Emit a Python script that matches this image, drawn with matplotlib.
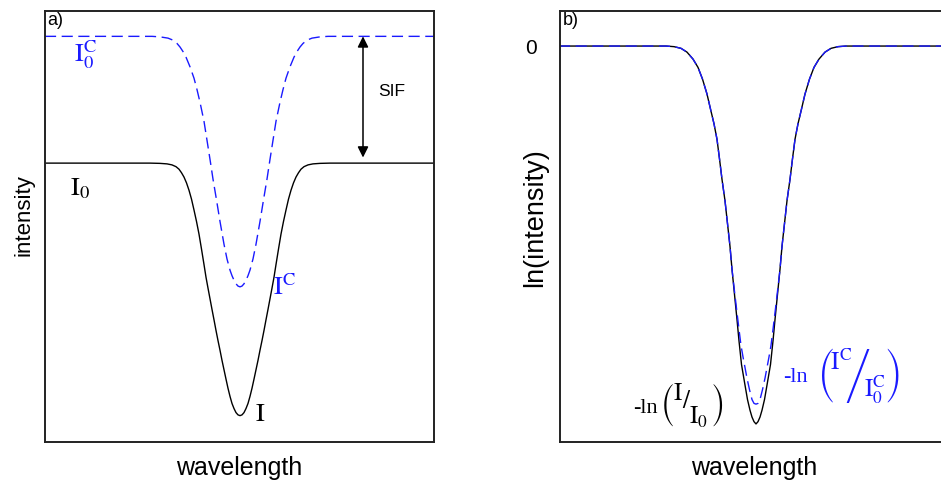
import numpy as np
import matplotlib
matplotlib.use('Agg')
import matplotlib.pyplot as plt

# panel a) intensity (wavelength in arbitrary units, line centre at 0)
wl_a = [-1.95, -0.90, -0.80, -0.73, -0.68, -0.64, -0.61, -0.585, -0.56, -0.535, -0.51,
        -0.485, -0.46, -0.435, -0.41, -0.385, -0.36, -0.34, -0.32, -0.30, -0.28, -0.26,
        -0.24, -0.22, -0.20, -0.18, -0.16, -0.14, -0.12, -0.10, -0.08, -0.06, -0.04, -0.02,
        0.0, 0.02, 0.04, 0.06, 0.08, 0.10, 0.12, 0.14, 0.16, 0.18, 0.20, 0.22, 0.24, 0.26,
        0.28, 0.30, 0.32, 0.34, 0.36, 0.385, 0.41, 0.435, 0.46, 0.485, 0.51, 0.535, 0.56,
        0.585, 0.61, 0.64, 0.68, 0.73, 0.80, 0.90, 1.95]
I_obs = [1.0, 1.0, 0.999, 0.997, 0.993, 0.986, 0.976, 0.962, 0.945, 0.922, 0.893,
         0.858, 0.815, 0.77, 0.72, 0.661, 0.60, 0.55, 0.507, 0.465, 0.423, 0.382,
         0.34, 0.30, 0.262, 0.222, 0.185, 0.148, 0.112, 0.080, 0.052, 0.032, 0.016, 0.007,
         0.004, 0.007, 0.016, 0.032, 0.052, 0.080, 0.112, 0.148, 0.185, 0.222, 0.262, 0.30, 0.34, 0.382,
         0.423, 0.465, 0.507, 0.55, 0.60, 0.661, 0.72, 0.77, 0.815, 0.858, 0.893, 0.922, 0.945,
         0.962, 0.976, 0.986, 0.993, 0.997, 0.999, 1.0, 1.0]

wl_c = [-1.95, -0.88, -0.80, -0.72, -0.67, -0.63, -0.60, -0.57, -0.54, -0.50, -0.46, -0.43,
        -0.40, -0.36, -0.33, -0.30, -0.27, -0.235, -0.20, -0.16, -0.13, -0.10, -0.08, -0.06,
        -0.04, -0.02, 0.0, 0.02, 0.04, 0.06, 0.08, 0.10, 0.13, 0.16, 0.20, 0.235, 0.27, 0.30,
        0.33, 0.36, 0.40, 0.43, 0.46, 0.50, 0.54, 0.57, 0.60, 0.63, 0.67, 0.72, 0.80, 0.88, 1.95]
I_corr = [1.5, 1.5, 1.498, 1.493, 1.485, 1.472, 1.458, 1.44, 1.418, 1.38, 1.335, 1.29,
          1.24, 1.165, 1.09, 1.015, 0.937, 0.855, 0.77, 0.68, 0.622, 0.578, 0.556, 0.538,
          0.524, 0.515, 0.512, 0.515, 0.524, 0.538, 0.556, 0.578, 0.622, 0.68, 0.77, 0.855, 0.937, 1.015,
          1.09, 1.165, 1.24, 1.29, 1.335, 1.38, 1.418, 1.44, 1.458, 1.472, 1.485, 1.493, 1.498, 1.5, 1.5]

# panel b) ln(intensity)
wl_b = [-1.97, -0.90, -0.82, -0.75, -0.69, -0.63, -0.58, -0.535, -0.49, -0.45, -0.42,
        -0.39, -0.365, -0.34, -0.31, -0.285, -0.26, -0.24, -0.215, -0.19, -0.17, -0.145,
        -0.11, -0.085, -0.06, -0.04, -0.02, 0.0, 0.02, 0.04, 0.06, 0.085, 0.11, 0.145, 0.17,
        0.19, 0.215, 0.24, 0.26, 0.285, 0.31, 0.34, 0.365, 0.39, 0.42, 0.45, 0.49, 0.535,
        0.58, 0.63, 0.69, 0.75, 0.82, 0.90, 1.92]
ln_obs = [0.0, 0.0, -0.008, -0.03, -0.08, -0.171, -0.28, -0.434, -0.63, -0.855, -1.02,
          -1.224, -1.48, -1.75, -2.03, -2.33, -2.63, -2.93, -3.26, -3.59, -3.87, -4.18,
          -4.45, -4.64, -4.78, -4.87, -4.93, -4.96, -4.93, -4.87, -4.78, -4.64, -4.45, -4.18, -3.87,
          -3.59, -3.26, -2.93, -2.63, -2.33, -2.03, -1.75, -1.48, -1.224, -1.02, -0.855, -0.63, -0.434,
          -0.28, -0.171, -0.08, -0.03, -0.008, 0.0, 0.0]

wl_bc = [-1.97, -0.90, -0.82, -0.75, -0.69, -0.63, -0.58, -0.535, -0.49, -0.45, -0.42,
         -0.39, -0.365, -0.34, -0.31, -0.285, -0.26, -0.24, -0.215, -0.19, -0.17, -0.15,
         -0.13, -0.11, -0.09, -0.065, -0.04, -0.02, 0.0, 0.02, 0.04, 0.065, 0.09, 0.11, 0.13,
         0.15, 0.17, 0.19, 0.215, 0.24, 0.26, 0.285, 0.31, 0.34, 0.365, 0.39, 0.42, 0.45,
         0.49, 0.535, 0.58, 0.63, 0.69, 0.75, 0.82, 0.90, 1.92]
ln_corr = [0.0, 0.0, -0.008, -0.03, -0.08, -0.171, -0.28, -0.434, -0.63, -0.855, -1.02,
           -1.224, -1.48, -1.75, -2.03, -2.33, -2.63, -2.93, -3.22, -3.50, -3.72, -3.93,
           -4.08, -4.22, -4.36, -4.51, -4.64, -4.69, -4.70, -4.69, -4.64, -4.51, -4.36, -4.22, -4.08,
           -3.93, -3.72, -3.50, -3.22, -2.93, -2.63, -2.33, -2.03, -1.75, -1.48, -1.224, -1.02, -0.855,
           -0.63, -0.434, -0.28, -0.171, -0.08, -0.03, -0.008, 0.0, 0.0]

sif_x = 1.23
sif_top = 1.5
sif_bottom = 1.022

plt.rcParams['font.family'] = ['Liberation Sans', 'DejaVu Sans']
plt.rcParams['mathtext.fontset'] = 'stix'

W, H = 941, 484
fig = plt.figure(figsize=(W / 100, H / 100), dpi=100)
ax1 = fig.add_axes([45 / W, 42 / H, 389 / W, 431 / H])
ax2 = fig.add_axes([560 / W, 42 / H, 389 / W, 431 / H])

blue = '#1a1aff'
dash = (8, 4)

ax1.plot(wl_a, I_obs, color='black', lw=1.0)
ax1.plot(wl_c, I_corr, color=blue, lw=1.0, ls='--', dashes=dash)
ax1.set_xlim(-1.95, 1.94)
ax1.set_ylim(-0.1, 1.6)
ax1.annotate('', xy=(sif_x, sif_bottom), xytext=(sif_x, sif_top),
             arrowprops=dict(arrowstyle='<|-|>', color='black', lw=1.1,
                             mutation_scale=16, shrinkA=0, shrinkB=0))
ax1.text(1.52, 1.283, 'SIF', fontsize=12.5, ha='center', va='center')
ax1.text(-1.55, 1.43, r'$\mathrm{I}_0^\mathrm{C}$', color=blue, fontsize=19, ha='center', va='center')
ax1.text(-1.6, 0.90, r'$\mathrm{I}_0$', color='black', fontsize=19, ha='center', va='center')
ax1.text(0.44, 0.51, r'$\mathrm{I}^\mathrm{C}$', color=blue, fontsize=19, ha='center', va='center')
ax1.text(0.20, 0.012, r'$\mathrm{I}$', color='black', fontsize=19, ha='center', va='center')
ax1.text(0.006, 0.997, 'a)', transform=ax1.transAxes, fontsize=13, ha='left', va='top')
ax1.set_xticks([])
ax1.set_yticks([])
ax1.set_xlabel('wavelength', fontsize=18)
ax1.xaxis.set_label_coords(0.5, -26 / 431)
ax1.xaxis.label.set_va('center')
ax1.set_ylabel('intensity', fontsize=16)
ax1.yaxis.set_label_coords(-21 / 389, 0.527)
ax1.yaxis.label.set_va('center')

ax2.plot(wl_b, ln_obs, color='black', lw=1.0)
ax2.plot(wl_bc, ln_corr, color=blue, lw=1.0, ls='--', dashes=dash)
ax2.set_xlim(-1.96, 1.93)
ax2.set_ylim(-5.197, 0.46)
ax2.set_xticks([])
ax2.set_yticks([0])
ax2.set_yticklabels(['0'], fontsize=15)
ax2.tick_params(axis='y', length=0, pad=17)

ax2.text(-1.11, -4.816, '-ln', color='black', fontsize=16, family='Liberation Serif',
         ha='center', va='baseline')
ax2.text(-0.645, -4.71,
         r'$\left(\genfrac{}{}{0}{0}{\mathrm{I}}{\,}\!/\genfrac{}{}{0}{0}{\,}{\mathrm{I}_0}\right)$',
         color='black', fontsize=18, ha='center', va='center')
ax2.text(0.39, -4.41, '-ln', color=blue, fontsize=16, family='Liberation Serif',
         ha='center', va='baseline')
ax2.text(1.03, -4.33,
         r'$\left(\!\genfrac{}{}{0}{0}{\mathrm{I}^\mathrm{C}}{\,}\!\!\!\middle/\!\!\genfrac{}{}{0}{0}{\,}{\mathrm{I}_0^\mathrm{C}}\!\right)$',
         color=blue, fontsize=18, ha='center', va='center')
ax2.text(0.006, 0.997, 'b)', transform=ax2.transAxes, fontsize=13, ha='left', va='top')
ax2.set_xlabel('wavelength', fontsize=18)
ax2.xaxis.set_label_coords(0.5, -26 / 431)
ax2.xaxis.label.set_va('center')
ax2.set_ylabel('ln(intensity)', fontsize=19.5)
ax2.yaxis.set_label_coords(-25 / 389, 0.52)
ax2.yaxis.label.set_va('center')

for ax in (ax1, ax2):
    for s in ax.spines.values():
        s.set_linewidth(1.4)
        s.set_color('#222222')

fig.savefig('out.png', dpi=100)
